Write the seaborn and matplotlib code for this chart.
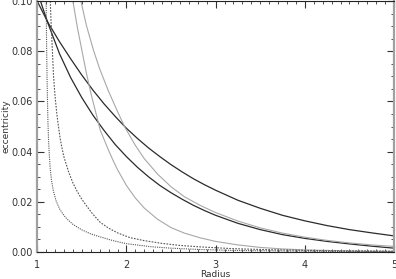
import numpy as np
import pandas as pd
import matplotlib
matplotlib.use("Agg")
import matplotlib.pyplot as plt
import seaborn as sns
from matplotlib.ticker import MultipleLocator, FormatStrFormatter

# values (radius, eccentricity)
r_a = [1.0, 1.12, 1.25, 1.375, 1.5, 1.625, 1.75, 1.875, 2.0, 2.125, 2.25, 2.375, 2.5,
       2.625, 2.75, 2.875, 3.0, 3.25, 3.5, 3.75, 4.0, 4.25, 4.5, 4.75, 5.0]
e_a = [0.100, 0.0915, 0.0838, 0.0770, 0.0705, 0.0645, 0.0590, 0.0540, 0.0493, 0.0452,
       0.0414, 0.0380, 0.0348, 0.0319, 0.0292, 0.0268, 0.0246, 0.0206, 0.0174, 0.0146,
       0.0124, 0.0105, 0.0089, 0.0076, 0.0064]

r_b = [1.0, 1.06, 1.12, 1.25, 1.375, 1.5, 1.625, 1.75, 1.875, 2.0, 2.125, 2.25, 2.375,
       2.5, 2.625, 2.75, 2.875, 3.0, 3.25, 3.5, 3.75, 4.0, 4.25, 4.5, 4.75, 5.0]
e_b = [0.104, 0.0975, 0.0912, 0.0790, 0.0695, 0.0615, 0.0545, 0.0484, 0.0428, 0.0380,
       0.0337, 0.0299, 0.0265, 0.0236, 0.0210, 0.0186, 0.0165, 0.0146, 0.0114, 0.0089,
       0.0069, 0.0054, 0.0042, 0.0032, 0.0023, 0.0015]

r_g1 = [1.40, 1.45, 1.50, 1.55, 1.60, 1.65, 1.706, 1.75, 1.80, 1.85, 1.90, 2.0, 2.1, 2.2,
        2.35, 2.5, 2.65, 2.83, 3.0, 3.25, 3.5, 3.75, 4.0, 4.5, 5.0]
e_g1 = [0.100, 0.0895, 0.0805, 0.0715, 0.0635, 0.0565, 0.0486, 0.0448, 0.0405, 0.0365,
        0.0328, 0.0265, 0.0215, 0.0175, 0.0130, 0.0097, 0.0075, 0.0056, 0.0042, 0.0028,
        0.0018, 0.0012, 0.0008, 0.0004, 0.0002]

r_g2 = [1.49, 1.55, 1.63, 1.70, 1.80, 1.90, 1.986, 2.1, 2.2, 2.35, 2.5, 2.65, 2.83, 3.0,
        3.25, 3.5, 3.75, 4.0, 4.25, 4.5, 4.75, 5.0]
e_g2 = [0.100, 0.0905, 0.0805, 0.0730, 0.0640, 0.0560, 0.0495, 0.0425, 0.0372, 0.0310,
        0.0260, 0.0220, 0.0185, 0.0157, 0.0123, 0.0096, 0.0075, 0.0059, 0.0046, 0.0036,
        0.0028, 0.0022]

r_d1 = [1.100, 1.103, 1.106, 1.110, 1.115, 1.120, 1.127, 1.135, 1.146, 1.16, 1.18, 1.21,
        1.25, 1.30, 1.333, 1.40, 1.50, 1.60, 1.706, 1.85, 2.0, 2.27, 2.5, 2.8, 3.2, 3.7,
        4.3, 5.0]
e_d1 = [0.100, 0.090, 0.080, 0.070, 0.060, 0.052, 0.0446, 0.0390, 0.0330, 0.0285, 0.0245,
        0.0205, 0.0172, 0.0145, 0.0132, 0.0110, 0.0088, 0.0072, 0.0060, 0.0045, 0.0033,
        0.0021, 0.0015, 0.0010, 0.0006, 0.0004, 0.0002, 0.0001]

r_d2 = [1.146, 1.155, 1.165, 1.183, 1.20, 1.22, 1.24, 1.258, 1.28, 1.30, 1.351, 1.40,
        1.45, 1.50, 1.55, 1.62, 1.706, 1.80, 1.90, 2.04, 2.2, 2.4, 2.6, 2.83, 3.2, 3.6,
        4.2, 5.0]
e_d2 = [0.100, 0.092, 0.084, 0.0700, 0.0620, 0.0550, 0.0495, 0.0450, 0.0410, 0.0378,
        0.0320, 0.0275, 0.0240, 0.0210, 0.0185, 0.0152, 0.0118, 0.0095, 0.0076, 0.0057,
        0.0045, 0.0034, 0.0026, 0.0020, 0.0013, 0.0009, 0.0005, 0.0003]

curves = [
    (r_a, e_a, "#2b2b2b", "-", 0.9),
    (r_b, e_b, "#2b2b2b", "-", 0.9),
    (r_g1, e_g1, "#a8a8a8", "-", 0.8),
    (r_g2, e_g2, "#a8a8a8", "-", 0.8),
    (r_d1, e_d1, "#555555", (0, (1, 1)), 0.8),
    (r_d2, e_d2, "#555555", (0, (1.5, 1.2)), 0.8),
]

sns.set_style("ticks")
plt.rcParams["font.family"] = ["DejaVu Sans"]

fig = plt.figure(figsize=(3.96, 2.79), dpi=100)
ax = fig.add_axes([0.094, 0.097, 0.901, 0.899])

for r, e, col, ls, lw in curves:
    df = pd.DataFrame({"Radius": r, "eccentricity": e})
    sns.lineplot(data=df, x="Radius", y="eccentricity", color=col,
                 linestyle=ls, linewidth=lw, ax=ax, sort=False)

ax.set_xlim(1, 5)
ax.set_ylim(0, 0.1)
ax.xaxis.set_major_locator(MultipleLocator(1))
ax.xaxis.set_minor_locator(MultipleLocator(0.1))
ax.yaxis.set_major_locator(MultipleLocator(0.02))
ax.yaxis.set_minor_locator(MultipleLocator(0.005))
ax.yaxis.set_major_formatter(FormatStrFormatter("%.2f"))

ax.tick_params(which="both", direction="in", top=True, right=True,
               labelsize=7, colors="#333333", labelcolor="#333333")
ax.tick_params(which="major", length=5, width=0.8)
ax.tick_params(which="minor", length=2.5, width=0.6)
ax.tick_params(axis="x", pad=5.5)
ax.tick_params(axis="y", pad=3)

for s in ["left", "right"]:
    ax.spines[s].set_color("#a0a0a0")
    ax.spines[s].set_linewidth(1.6)
for s in ["top", "bottom"]:
    ax.spines[s].set_color("#222222")
    ax.spines[s].set_linewidth(0.8)

ax.set_xlabel("Radius", fontsize=6.5, color="#333333", labelpad=0)
ax.set_ylabel("eccentricity", fontsize=6.5, color="#333333", labelpad=1)

fig.savefig("out.png", dpi=100)
